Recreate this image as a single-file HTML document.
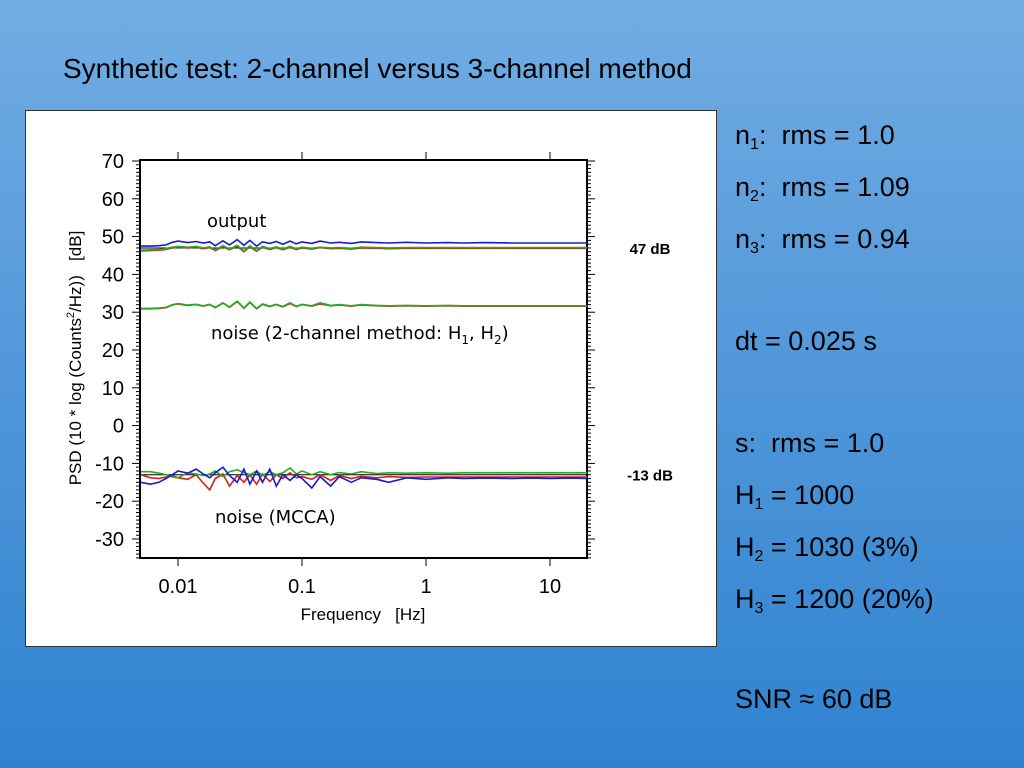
<!DOCTYPE html>
<html><head><meta charset="utf-8">
<style>
body{margin:0;width:1024px;height:768px;overflow:hidden;background:linear-gradient(#72ace3,#2f82d0);font-family:"Liberation Sans",sans-serif;position:relative}
.t{position:absolute;color:#000;white-space:nowrap}
.r{font-size:27px;left:735px}
sub{font-size:16px;vertical-align:-5px;line-height:0}
</style></head><body>
<div class="t" style="left:63px;top:53px;font-size:28px">Synthetic test: 2-channel versus 3-channel method</div>
<div class="t" style="left:25px;top:110px;width:692px;height:537px;background:#fff;border:1px solid #333;box-sizing:border-box"></div>
<svg id="chart" width="1024" height="768" style="position:absolute;left:0;top:0" font-family="Liberation Sans, sans-serif"></svg>
<div class="t r" style="top:120px">n<sub>1</sub>:&nbsp; rms = 1.0</div>
<div class="t r" style="top:172px">n<sub>2</sub>:&nbsp; rms = 1.09</div>
<div class="t r" style="top:224px">n<sub>3</sub>:&nbsp; rms = 0.94</div>
<div class="t r" style="top:326px">dt = 0.025 s</div>
<div class="t r" style="top:428px">s:&nbsp; rms = 1.0</div>
<div class="t r" style="top:480px">H<sub>1</sub> = 1000</div>
<div class="t r" style="top:532px">H<sub>2</sub> = 1030 (3%)</div>
<div class="t r" style="top:584px">H<sub>3</sub> = 1200 (20%)</div>
<div class="t r" style="top:684px">SNR ≈ 60 dB</div>
<script>
const freqs=[0.005,0.006,0.007,0.008,0.009,0.01,0.012,0.014,0.016,0.018,0.02,0.023,0.026,0.03,0.034,0.038,0.043,0.048,0.055,0.062,0.07,0.08,0.09,0.1,0.12,0.14,0.17,0.2,0.25,0.3,0.4,0.5,0.7,1,1.5,2,3,5,7,10,15,20];
const outBlue=[47.5,47.5,47.6,47.8,48.5,48.8,48.4,48.7,48.3,48.6,47.6,48.9,47.8,49.2,47.7,49.0,47.5,48.6,48.2,48.7,48.0,48.8,48.1,48.6,48.2,48.8,48.3,48.5,48.2,48.6,48.4,48.3,48.5,48.3,48.4,48.3,48.4,48.3,48.3,48.3,48.3,48.3];
const outRed=[46.2,46.3,46.4,46.6,47.0,47.2,47.0,47.2,46.8,47.1,46.3,47.3,46.5,47.4,46.0,47.3,46.1,47.2,46.6,47.1,46.5,47.2,46.6,47.0,46.7,47.1,46.8,46.9,46.7,47.0,46.9,46.8,46.9,46.9,46.9,46.9,46.9,46.9,46.9,46.9,46.9,46.9];
const outGreen=[46.4,46.5,46.6,46.8,47.2,47.4,47.2,47.4,47.0,47.3,46.5,47.6,46.7,47.7,46.2,47.6,46.3,47.4,46.8,47.3,46.7,47.4,46.8,47.2,46.9,47.2,47.0,47.1,46.9,47.2,47.1,47.0,47.1,47.1,47.1,47.1,47.1,47.1,47.1,47.1,47.1,47.1];
const n2Red=[30.9,30.9,31.0,31.2,31.9,32.2,31.8,32.0,31.6,32.0,31.2,32.4,31.3,32.8,31.0,32.6,30.9,32.1,31.5,32.0,31.4,32.3,31.5,32.0,31.6,32.2,31.7,31.9,31.6,31.9,31.7,31.6,31.7,31.6,31.7,31.6,31.6,31.6,31.6,31.6,31.6,31.6];
const n2Green=[31.0,31.0,31.1,31.3,32.0,32.3,31.9,32.1,31.7,32.1,31.3,32.5,31.4,32.9,31.1,32.7,31.0,32.2,31.6,32.1,31.5,32.5,31.6,32.1,31.7,32.5,31.8,32.0,31.7,32.0,31.8,31.7,31.8,31.7,31.8,31.7,31.7,31.7,31.7,31.7,31.7,31.7];
const mRed=[-13.0,-13.8,-14.0,-13.6,-13.2,-13.8,-14.2,-13.0,-15.2,-17.0,-14.0,-12.8,-16.0,-13.2,-15.0,-13.0,-15.5,-12.8,-14.8,-13.0,-14.0,-12.5,-13.8,-13.5,-14.2,-13.0,-14.5,-13.2,-14.0,-13.4,-13.8,-13.5,-13.7,-13.6,-13.6,-13.6,-13.6,-13.6,-13.6,-13.6,-13.6,-13.6];
const mGreen=[-12.2,-12.2,-12.6,-13.0,-13.6,-13.8,-12.5,-12.8,-13.2,-12.8,-12.0,-13.5,-12.2,-11.7,-12.4,-13.0,-12.0,-13.2,-12.2,-13.0,-12.5,-11.2,-12.8,-12.0,-13.0,-12.2,-13.0,-12.4,-12.8,-12.2,-12.7,-12.5,-12.6,-12.5,-12.6,-12.5,-12.5,-12.5,-12.5,-12.5,-12.5,-12.5];
const mBlue=[-15.0,-15.5,-15.0,-14.0,-13.0,-12.0,-12.6,-11.5,-12.8,-13.8,-12.5,-11.0,-13.2,-15.0,-11.5,-15.5,-12.0,-15.0,-11.5,-16.0,-13.0,-14.5,-13.0,-14.0,-16.5,-13.5,-16.0,-13.5,-15.0,-13.8,-14.2,-15.0,-13.8,-14.2,-13.8,-14.0,-13.9,-14.0,-13.9,-14.0,-13.9,-14.0];
const yTicks=[70,60,50,40,30,20,10,0,-10,-20,-30];
const xTicks=[0.01,0.1,1,10];
const xTickLabels=["0.01","0.1","1","10"];
const refLevels=[47,-13];
const refLabels=["47 dB","-13 dB"];

const L=140,R=587,T=160,B=558;
const x=f=>178+124*Math.log10(f/0.01);
const y=v=>161+(70-v)*3.78;
const svg=document.getElementById('chart');
const NS='http://www.w3.org/2000/svg';
function mk(tag,at,parent){const e=document.createElementNS(NS,tag);for(const k in at)e.setAttribute(k,at[k]);(parent||svg).appendChild(e);return e;}
const fr=mk('rect',{x:L,y:T,width:R-L,height:B-T,fill:'none',stroke:'#000','stroke-width':2});


for(let v=-35;v<=70;v++){const len=(v%10===0)?8:4;
 const a=mk('line',{x1:L,x2:L-len,y1:y(v),y2:y(v),stroke:'#000','stroke-width':1});
 
 const b=mk('line',{x1:R,x2:R+len,y1:y(v),y2:y(v),stroke:'#000','stroke-width':1});
 }
yTicks.forEach(v=>{const t=mk('text',{x:L-16,y:y(v)+7,'text-anchor':'end','font-size':20});t.textContent=v;
 });
xTicks.forEach((f,i)=>{
 const a=mk('line',{x1:x(f),x2:x(f),y1:B,y2:B+8,stroke:'#000'});
 const b=mk('line',{x1:x(f),x2:x(f),y1:T,y2:T-8,stroke:'#000'});
 const t=mk('text',{x:x(f),y:B+35,'text-anchor':'middle','font-size':20});t.textContent=xTickLabels[i];
 });
let t=mk('text',{x:363,y:620,'text-anchor':'middle','font-size':17});t.textContent='Frequency\u00a0\u00a0\u00a0[Hz]';

t=mk('text',{x:0,y:0,'text-anchor':'middle','font-size':17,transform:'translate(81,358) rotate(-90)'});
t.innerHTML='PSD (10 * log (Counts<tspan font-size="11" dy="-7">2</tspan><tspan dy="7">/Hz))&#160;&#160;&#160;[dB]</tspan>';

refLevels.forEach((v,i)=>{const l=mk('line',{x1:L,x2:R,y1:y(v),y2:y(v),stroke:'#000','stroke-width':1});
 
 const tt=mk('text',{x:650,y:y(v)+6,'text-anchor':'middle','font-size':15,'font-weight':'bold'});tt.textContent=refLabels[i];
 });
const series=[[outRed,'#d02020','output-red'],[outGreen,'#20b020','output-green'],[outBlue,'#1a1ad0','output-blue'],[n2Red,'#d02020','noise-2ch-red'],[n2Green,'#20b020','noise-2ch-green'],[mRed,'#d02020','mcca-red'],[mGreen,'#20b020','mcca-green'],[mBlue,'#1a1ad0','mcca-blue']];
series.forEach(([d,c,n])=>{const p=d.map((v,i)=>(i?'L':'M')+x(freqs[i]).toFixed(1)+','+y(v).toFixed(1)).join('');
 const e=mk('path',{d:p,fill:'none',stroke:c,'stroke-width':1.6});
 });
const ann=[['output',207,227,'output-label'],['noise (2-channel method: H<tspan font-size="12" dy="5">1</tspan><tspan dy="-5">, H</tspan><tspan font-size="12" dy="5">2</tspan><tspan dy="-5">)</tspan>',211,339,'noise-2ch-label'],['noise (MCCA)',215,523,'noise-mcca-label']];
ann.forEach(([s,ax,ay,n])=>{const e=mk('text',{x:ax,y:ay,'font-size':18,'font-family':'DejaVu Sans, sans-serif'});e.innerHTML=s;
 });
</script>
</body></html>
